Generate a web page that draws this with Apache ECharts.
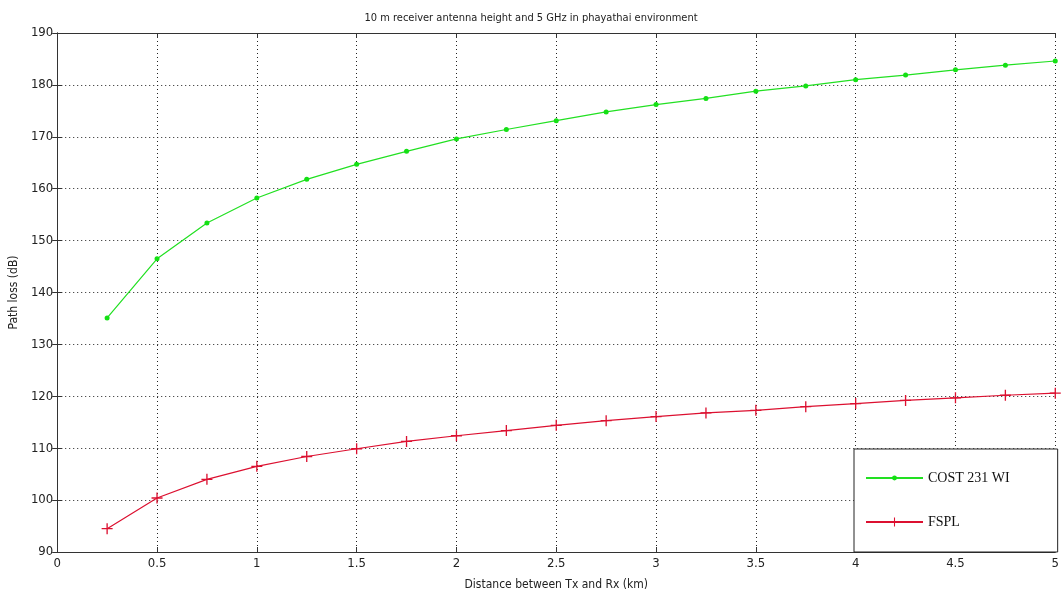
<!DOCTYPE html>
<html>
<head>
	<title>Path loss</title>
	<meta http-equiv="Content-Type" content="text/html; charset=utf-8">
	<style>
		body { margin: 0; background: #fff; }
		#chart { width: 1062px; height: 598px; }
	</style>
</head>
<body>
	<div id="chart"></div>
</body>
<script type="text/javascript" src="https://cdn.jsdelivr.net/npm/echarts@6/dist/echarts.min.js"></script>
<script type="text/javascript">
	// distance in km
	var distance = [0.25, 0.5, 0.75, 1, 1.25, 1.5, 1.75, 2, 2.25, 2.5, 2.75, 3, 3.25, 3.5, 3.75, 4, 4.25, 4.5, 4.75, 5];
	// path loss in dB
	var cost231 = [135.1, 146.5, 153.4, 158.2, 161.8, 164.7, 167.2, 169.6, 171.4, 173.1, 174.8, 176.2, 177.4, 178.8, 179.8, 181.0, 181.9, 182.9, 183.8, 184.6];
	var fspl = [94.5, 100.4, 104.0, 106.5, 108.4, 109.9, 111.3, 112.4, 113.4, 114.4, 115.3, 116.1, 116.8, 117.3, 118.0, 118.6, 119.2, 119.7, 120.2, 120.6];

	var titleText = '10 m receiver antenna height and 5 GHz in phayathai environment';
	var xName = 'Distance between Tx and Rx (km)';
	var yName = 'Path loss (dB)';

	var narrow = "'Liberation Sans Narrow', 'DejaVu Sans Condensed', 'Liberation Sans', sans-serif";
	var plus = 'path://M4.4,0h1.2v10h-1.2z M0,4.4h10v1.2h-10z';

	function pairs(xs, ys) {
		var out = [];
		for (var i = 0; i < xs.length; i++) out.push([xs[i], ys[i]]);
		return out;
	}

	var myChart = echarts.init(document.getElementById('chart'));

	var frameAxis = {
		axisLine: { show: true, lineStyle: { color: '#333', width: 1 } },
		axisTick: { show: true, inside: true, length: 5, lineStyle: { color: '#333' } },
		axisLabel: { show: false },
		splitLine: { show: false }
	};
	var legendText = { fontFamily: "'Liberation Serif', serif", fontSize: 14, color: '#111' };

	var option = {
		backgroundColor: '#fff',
		animation: false,
		title: {
			text: titleText,
			left: 'center',
			top: 8,
			textStyle: { fontSize: 11, fontWeight: 'normal', color: '#222', fontFamily: narrow }
		},
		grid: {
			left: 55,
			right: 6,
			top: 33,
			bottom: 46,
			containLabel: false
		},
		legend: [
			{
				// box and first entry
				orient: 'vertical',
				left: 854,
				top: 449,
				padding: [22, 48, 67, 11],
				itemWidth: 57,
				itemHeight: 6,
				backgroundColor: '#fff',
				borderColor: '#222',
				borderWidth: 1,
				borderRadius: 0,
				textStyle: legendText,
				data: ['COST 231 WI']
			},
			{
				orient: 'vertical',
				left: 854,
				top: 515,
				z: 10,
				padding: [0, 0, 0, 11],
				itemWidth: 57,
				itemHeight: 11,
				textStyle: legendText,
				data: ['FSPL']
			}
		],
		xAxis: [
			{
				type: 'value',
				min: 0,
				max: 5,
				interval: 0.5,
				name: xName,
				nameLocation: 'middle',
				nameGap: 27,
				nameTextStyle: { fontSize: 12, color: '#222', fontFamily: narrow },
				axisLine: { show: true, lineStyle: { color: '#333', width: 1 } },
				axisTick: { show: true, inside: true, length: 5, lineStyle: { color: '#333' } },
				axisLabel: { fontSize: 13, color: '#222', fontFamily: narrow, margin: 5 },
				splitLine: { show: true, lineStyle: { color: '#222', type: [1, 3], width: 1 } }
			},
			echarts.util.merge({ type: 'value', position: 'top', min: 0, max: 5, interval: 0.5 }, frameAxis, true)
		],
		yAxis: [
			{
				type: 'value',
				min: 90,
				max: 190,
				interval: 10,
				name: yName,
				nameLocation: 'middle',
				nameGap: 32,
				nameTextStyle: { fontSize: 12, color: '#222', fontFamily: narrow },
				axisLine: { show: true, lineStyle: { color: '#333', width: 1 } },
				axisTick: { show: true, inside: true, length: 5, lineStyle: { color: '#333' } },
				axisLabel: { fontSize: 13, color: '#222', fontFamily: narrow, margin: 4 },
				splitLine: { show: true, lineStyle: { color: '#222', type: [1, 3], width: 1 } }
			},
			echarts.util.merge({ type: 'value', position: 'right', min: 90, max: 190, interval: 10 }, frameAxis, true)
		],
		series: [
			{
				name: 'COST 231 WI',
				type: 'line',
				data: pairs(distance, cost231),
				symbol: 'circle',
				symbolSize: 5,
				lineStyle: { color: '#22e022', width: 1.2 },
				itemStyle: { color: '#14e014' }
			},
			{
				name: 'FSPL',
				type: 'line',
				data: pairs(distance, fspl),
				symbol: plus,
				symbolSize: 11,
				symbolKeepAspect: true,
				lineStyle: { color: '#dc1030', width: 1.2 },
				itemStyle: { color: '#dc1030' }
			}
		]
	};

	myChart.setOption(option);
</script>
</html>
